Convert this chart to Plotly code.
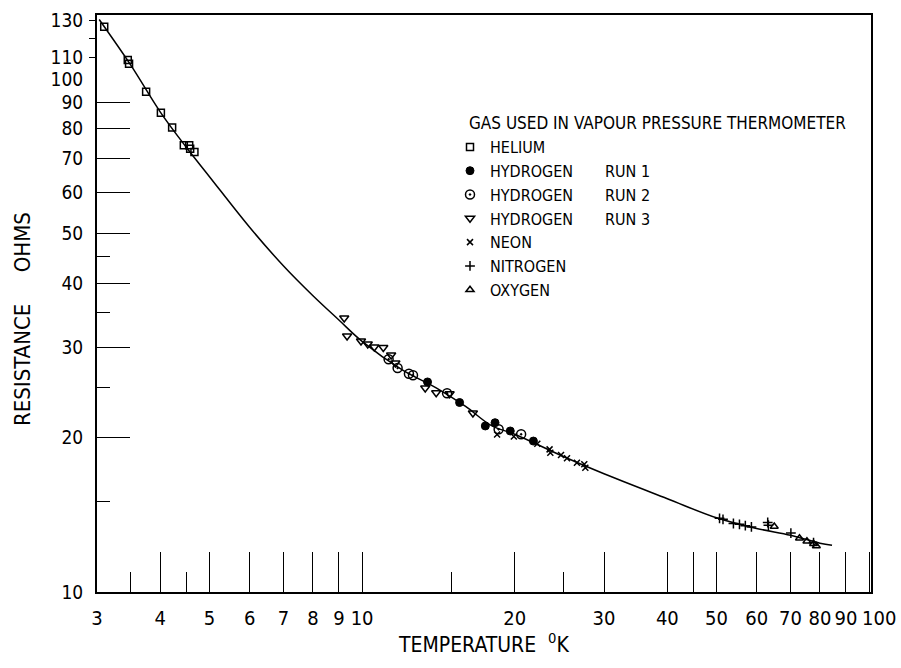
import plotly.graph_objects as go
import math

# ---- data (temperature in K, resistance in ohms) ----
HE_T = [3.10, 3.45, 3.47, 3.75, 4.01, 4.22, 4.45, 4.56, 4.58, 4.67]
HE_R = [126.5, 108.9, 107.1, 94.4, 85.9, 80.4, 74.3, 74.3, 73.1, 72.1]
H1_T = [13.46, 15.57, 17.50, 18.29, 19.6, 21.77]
H1_R = [25.67, 23.41, 21.07, 21.38, 20.6, 19.69]
H2_T = [11.28, 11.75, 12.37, 12.60, 14.71, 18.59, 20.59]
H2_R = [28.42, 27.33, 26.64, 26.45, 24.41, 20.76, 20.3]
H3_T = [9.22, 9.34, 9.95, 10.26, 10.57, 11.01, 11.41, 11.63, 13.32, 14.0, 14.88, 16.54]
H3_R = [34.2, 31.55, 30.85, 30.44, 30.03, 29.96, 28.97, 27.95, 24.98, 24.46, 24.35, 22.34]
NE_T = [18.46, 19.92, 22.16, 23.43, 23.51, 24.68, 25.36, 26.53, 27.43, 27.56]
NE_R = [20.28, 20.1, 19.45, 18.97, 18.68, 18.49, 18.22, 17.87, 17.74, 17.47]
N2_T = [50.7, 51.5, 54.0, 55.5, 57.0, 58.6, 63.1, 63.3, 70.1, 77.7]
N2_R = [13.92, 13.86, 13.6, 13.55, 13.47, 13.39, 13.66, 13.5, 13.03, 12.48]
O2_T = [65.0, 72.9, 75.4, 77.7, 78.7]
O2_R = [13.42, 12.73, 12.56, 12.42, 12.29]
CURVE_T = [3.03, 3.5, 4.0, 4.5, 5.0, 6.0, 7.0, 8.0, 9.0, 10, 12, 14, 16, 18, 20,
           25, 30, 40, 50, 60, 70, 80, 84.5]
CURVE_R = [130.6, 106.3, 86.2, 73.6, 64.5, 51.4, 43.2, 37.8, 33.9, 30.8, 27.1, 25.0,
           23.0, 21.1, 20.3, 18.35, 17.0, 15.2, 13.95, 13.3, 12.9, 12.45, 12.33]

NB = "\u00a0"
X_LABEL_VALS = [3, 4, 5, 6, 7, 8, 9, 10, 20, 30, 40, 45, 50, 60, 70, 80, 90, 100]
X_LABEL_TEXT = ["3", "4", "5", "6", "7", "8", "9", "10", "20", "30", "40", "",
                "50", "60", "70", "80", "90", ""]
X_END_LABEL = "100"   # drawn slightly offset to the right, as in the original
X_SHORT_TICKS = [3.5, 4.5, 15, 25]
Y_LABEL_VALS = [10, 20, 30, 40, 50, 60, 70, 80, 90, 100, 110, 130]
Y_LABEL_TEXT = ["10", "20", "30", "40", "50", "60", "70", "80", "90", "100", "110", "130"]
Y_LONG_TICKS = [20, 30, 40, 50, 60, 70, 80, 90]
Y_SHORT_TICKS = [15, 25, 35, 45]
Y_OUT_TICKS = [110, 120, 130]

SERIES = [
    ("HELIUM", HE_T, HE_R, "square-open", 7, 1.5),
    ("HYDROGEN" + NB * 7 + "RUN 1", H1_T, H1_R, "circle", 8, 1.0),
    ("HYDROGEN" + NB * 7 + "RUN 2", H2_T, H2_R, "circle-open-dot", 9, 1.5),
    ("HYDROGEN" + NB * 7 + "RUN 3", H3_T, H3_R, "triangle-down-open", 8, 1.5),
    ("NEON", NE_T, NE_R, "x-thin-open", 6, 1.5),
    ("NITROGEN", N2_T, N2_R, "cross-thin-open", 7, 1.5),
    ("OXYGEN", O2_T, O2_R, "triangle-up-open", 7, 1.5),
]

FONT = "DejaVu Sans Condensed, DejaVu Sans, sans-serif"

fig = go.Figure()
fig.add_trace(go.Scatter(x=CURVE_T, y=CURVE_R, mode="lines",
                         line=dict(color="black", width=1.5, shape="spline"),
                         showlegend=False, hoverinfo="skip"))
for name, xs, ys, sym, size, lw in SERIES:
    fig.add_trace(go.Scatter(x=xs, y=ys, mode="markers", name=name,
                             marker=dict(symbol=sym, size=size, color="black",
                                         line=dict(color="black", width=lw))))
# empty traces so the tick-only overlay axes are drawn
fig.add_trace(go.Scatter(x=[], y=[], yaxis="y2", showlegend=False, hoverinfo="skip"))
fig.add_trace(go.Scatter(x=[], y=[], yaxis="y3", showlegend=False, hoverinfo="skip"))

yr = [1, 1 + 577 / 513]
fig.update_layout(
    width=901, height=668,
    margin=dict(l=97, r=30, t=15, b=76, autoexpand=False),
    paper_bgcolor="white", plot_bgcolor="white",
    font=dict(family=FONT, color="black"),
    xaxis=dict(type="log", range=[math.log10(3), math.log10(3) + 774 / 507],
               tickvals=X_LABEL_VALS, ticktext=X_LABEL_TEXT, tickangle=0,
               ticks="inside", ticklen=40, tickwidth=1.3, tickcolor="black",
               minor=dict(tickvals=X_SHORT_TICKS, ticks="inside", ticklen=20,
                          tickwidth=1.3, tickcolor="black", showgrid=False),
               ticklabelstandoff=7, automargin=False,
               tickfont=dict(size=20, family=FONT),
               showline=True, linewidth=2, linecolor="black", mirror=True,
               showgrid=False, zeroline=False),
    yaxis=dict(type="log", range=yr,
               tickvals=Y_LABEL_VALS, ticktext=Y_LABEL_TEXT, ticks="",
               ticklabelstandoff=8, automargin=False,
               tickfont=dict(size=19, family=FONT),
               showline=True, linewidth=2, linecolor="black", mirror=True,
               showgrid=False, zeroline=False),
    yaxis2=dict(type="log", range=yr, overlaying="y", anchor="x", automargin=False,
                tickvals=Y_LONG_TICKS, ticks="inside", ticklen=33, tickwidth=1.3,
                tickcolor="black", showticklabels=False,
                minor=dict(tickvals=Y_SHORT_TICKS, ticks="inside", ticklen=13,
                           tickwidth=1.3, tickcolor="black", showgrid=False),
                showline=False, showgrid=False, zeroline=False),
    yaxis3=dict(type="log", range=yr, overlaying="y", anchor="x", automargin=False,
                tickvals=Y_OUT_TICKS, ticks="outside", ticklen=7, tickwidth=1.3,
                tickcolor="black", showticklabels=False,
                showline=False, showgrid=False, zeroline=False),
    legend=dict(x=(450 - 97) / 774, y=(592 - 130) / 577, xanchor="left", yanchor="top",
                bgcolor="rgba(0,0,0,0)", borderwidth=0,
                font=dict(size=16, family=FONT),
                itemsizing="trace"),
    annotations=[
        dict(text=X_END_LABEL, xref="x", yref="paper",
             x=math.log10(X_LABEL_VALS[-1]), y=(592 - 618) / 577, xshift=10,
             xanchor="center", yanchor="middle", showarrow=False,
             font=dict(size=20, family=FONT)),
        dict(text="GAS USED IN VAPOUR PRESSURE THERMOMETER", xref="paper", yref="paper",
             x=(467 - 97) / 774, y=(592 - 123) / 577, xanchor="left", yanchor="middle",
             showarrow=False, font=dict(size=17, family=FONT)),
        dict(text="TEMPERATURE" + NB * 2 + "<sup>0</sup>K", xref="paper", yref="paper",
             x=0.5, y=(592 - 643) / 577, xanchor="center", yanchor="middle",
             showarrow=False, font=dict(size=21, family=FONT)),
        dict(text="RESISTANCE" + NB * 5 + "OHMS", xref="paper", yref="paper",
             x=(22 - 97) / 774, y=(592 - 319) / 577, xanchor="center", yanchor="middle",
             textangle=-90, showarrow=False, font=dict(size=22, family=FONT)),
    ],
)

fig.write_html("out.html")
